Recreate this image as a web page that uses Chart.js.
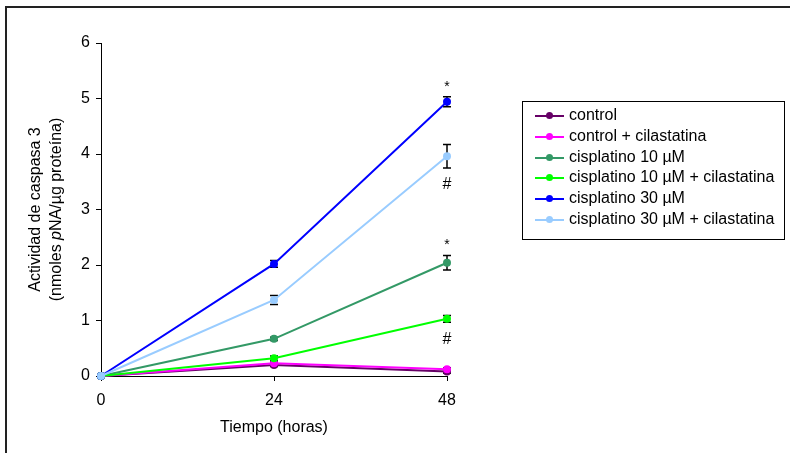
<!DOCTYPE html>
<html>
<head>
<meta charset="utf-8">
<script src="https://cdn.jsdelivr.net/npm/chart.js@4.4.0/dist/chart.umd.min.js"></script>
<style>
  body { margin: 0; background: #fff; font-family: 'Liberation Sans', Arial, sans-serif; }
  #wrap { position: relative; width: 790px; height: 453px; overflow: hidden; }
  #frame { position: absolute; left: 5px; top: 6px; width: 900px; height: 600px;
           border-top: 2px solid #222; border-left: 2px solid #222; }
  #chart { position: absolute; left: 0; top: 0; }
  #legend { position: absolute; left: 522px; top: 101px; width: 261px; height: 134px;
            border: 1px solid #000; padding-top: 3px; box-sizing: content-box; font-size: 16px; color: #000; }
  .row { height: 20.8px; line-height: 20.8px; position: relative; white-space: nowrap; }
  .sample { position: absolute; left: 12px; top: 10px; width: 29px; height: 2px; }
  .dot { position: absolute; left: 11px; top: -3px; width: 7px; height: 7px; border-radius: 50%; }
  .txt { position: absolute; left: 46px; top: 0; }
</style>
</head>
<body>
<div id="wrap">
  <div id="frame"></div>
  <canvas id="chart" width="790" height="453"></canvas>
  <div id="legend"></div>
</div>
<script>
// tiempo (horas)
const horas = [0, 24, 48];

const series = ['control', 'control + cilastatina', 'cisplatino 10 µM',
                'cisplatino 10 µM + cilastatina', 'cisplatino 30 µM', 'cisplatino 30 µM + cilastatina'];
const colores = ['#660066', '#ff00ff', '#339966', '#00ff00', '#0000ff', '#99ccff'];

// actividad de caspasa 3 por serie
const control      = [0, 0.20, 0.08];
const controlCil   = [0, 0.23, 0.12];
const cis10        = [0, 0.67, 2.04];
const cis10Cil     = [0, 0.32, 1.03];
const cis30        = [0, 2.02, 4.94];
const cis30Cil     = [0, 1.37, 3.96];

// error estandar
const errControl    = [0, 0.03, 0.03];
const errControlCil = [0, 0.03, 0.03];
const errCis10      = [0, 0.03, 0.13];
const errCis10Cil   = [0, 0.04, 0.06];
const errCis30      = [0, 0.06, 0.09];
const errCis30Cil   = [0, 0.08, 0.21];

const valores = [control, controlCil, cis10, cis10Cil, cis30, cis30Cil];
const errores = [errControl, errControlCil, errCis10, errCis10Cil, errCis30, errCis30Cil];

// marcas de significancia: serie, punto, simbolo
const marcas = [
  { serie: 4, punto: 2, simbolo: '*' },
  { serie: 5, punto: 2, simbolo: '#' },
  { serie: 2, punto: 2, simbolo: '*' },
  { serie: 3, punto: 2, simbolo: '#' }
];

const yTicks = [0, 1, 2, 3, 4, 5, 6];

// titulo del eje y (la p va en cursiva)
const yTitulo1 = [{ t: 'Actividad de caspasa 3', it: false }];
const yTitulo2 = [{ t: '(nmoles ', it: false }, { t: 'p', it: true }, { t: 'NA/µg proteína)', it: false }];

const FONT = "'Liberation Sans', Arial, sans-serif";

// barras de error (antes de los puntos)
const errorBars = {
  id: 'errorBars',
  beforeDatasetsDraw(chart) {
    const ctx = chart.ctx;
    const y = chart.scales.y;
    ctx.save();
    ctx.strokeStyle = '#000';
    ctx.lineWidth = 1.5;
    chart.data.datasets.forEach((ds, i) => {
      const meta = chart.getDatasetMeta(i);
      meta.data.forEach((pt, j) => {
        const e = errores[i][j];
        if (!e) return;
        const v = valores[i][j];
        const top = y.getPixelForValue(v + e);
        const bot = y.getPixelForValue(v - e);
        ctx.beginPath();
        ctx.moveTo(pt.x, top); ctx.lineTo(pt.x, bot);
        ctx.moveTo(pt.x - 4, top); ctx.lineTo(pt.x + 4, top);
        ctx.moveTo(pt.x - 4, bot); ctx.lineTo(pt.x + 4, bot);
        ctx.stroke();
      });
    });
    ctx.restore();
  },
  afterDatasetsDraw(chart) {
    const ctx = chart.ctx;
    const y = chart.scales.y;
    ctx.save();
    ctx.fillStyle = '#000';
    ctx.textAlign = 'center';
    ctx.textBaseline = 'middle';
    marcas.forEach(m => {
      const pt = chart.getDatasetMeta(m.serie).data[m.punto];
      const v = valores[m.serie][m.punto];
      const e = errores[m.serie][m.punto];
      if (m.simbolo === '*') {
        ctx.font = '14px ' + FONT;
        ctx.fillText('*', pt.x, y.getPixelForValue(v + e) - 10);
      } else {
        ctx.font = '16px ' + FONT;
        ctx.fillText('#', pt.x, y.getPixelForValue(v - e) + 17);
      }
    });
    ctx.restore();
  }
};

// titulo vertical con tramos en cursiva
const yTitle = {
  id: 'yTitle',
  afterDraw(chart) {
    const ctx = chart.ctx;
    const area = chart.chartArea;
    const cy = (area.top + area.bottom) / 2;
    const fontFor = it => (it ? 'italic ' : '') + '16px ' + FONT;
    const drawLine = (parts, cx) => {
      let w = 0;
      parts.forEach(p => { ctx.font = fontFor(p.it); w += ctx.measureText(p.t).width; });
      ctx.save();
      ctx.translate(cx, cy);
      ctx.rotate(-Math.PI / 2);
      ctx.fillStyle = '#000';
      ctx.textBaseline = 'middle';
      ctx.textAlign = 'left';
      let x = -w / 2;
      parts.forEach(p => {
        ctx.font = fontFor(p.it);
        ctx.fillText(p.t, x, 0);
        x += ctx.measureText(p.t).width;
      });
      ctx.restore();
    };
    drawLine(yTitulo1, 36);
    drawLine(yTitulo2, 57);
  }
};

const datasets = series.map((name, i) => ({
  label: name,
  data: horas.map((h, j) => ({ x: h, y: valores[i][j] })),
  borderColor: colores[i],
  backgroundColor: colores[i],
  borderWidth: 2,
  pointRadius: 4,
  pointBorderWidth: 0,
  pointBackgroundColor: colores[i],
  tension: 0,
  clip: false,
  order: -i
}));

new Chart(document.getElementById('chart'), {
  type: 'line',
  data: { datasets },
  options: {
    responsive: false,
    animation: false,
    layout: { padding: { left: 0, top: 43, right: 343, bottom: 0 } },
    plugins: { legend: { display: false }, tooltip: { enabled: false } },
    scales: {
      x: {
        type: 'linear',
        min: 0, max: 48,
        afterBuildTicks(scale) { scale.ticks = horas.map(v => ({ value: v })); },
        afterFit(scale) { scale.height = 77; },
        grid: { drawOnChartArea: false, drawTicks: true, tickLength: 5, color: '#000' },
        border: { color: '#000', width: 1 },
        ticks: { color: '#000', padding: 10, font: { family: FONT, size: 16 }, maxRotation: 0 },
        title: { display: true, text: 'Tiempo (horas)', color: '#000',
                 font: { family: FONT, size: 16, lineHeight: 1.2 }, padding: { bottom: 16 } }
      },
      y: {
        min: 0, max: 6,
        afterBuildTicks(scale) { scale.ticks = yTicks.map(v => ({ value: v })); },
        afterFit(scale) { scale.width = 101; },
        grid: { drawOnChartArea: false, drawTicks: true, tickLength: 5, color: '#000' },
        border: { color: '#000', width: 1 },
        ticks: { color: '#000', padding: 6, font: { family: FONT, size: 16 } },
        title: { display: false }
      }
    }
  },
  plugins: [errorBars, yTitle]
});

// leyenda
const legend = document.getElementById('legend');
series.forEach((name, i) => {
  const row = document.createElement('div');
  row.className = 'row';
  row.innerHTML = `
    <div class="sample" style="background:${colores[i]}"><div class="dot" style="background:${colores[i]}"></div></div>
    <span class="txt">${name}</span>`;
  legend.appendChild(row);
});
</script>
</body>
</html>
